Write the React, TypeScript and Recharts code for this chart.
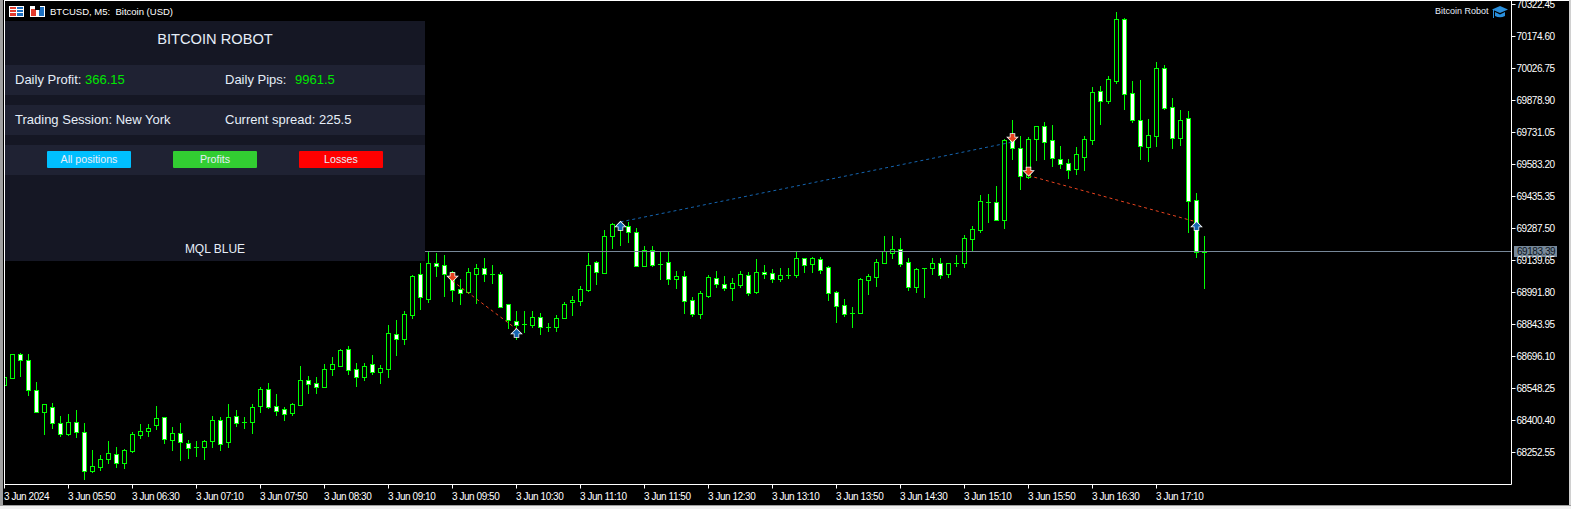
import { Bar, ComposedChart, ReferenceDot, ReferenceLine, XAxis, YAxis } from "recharts";

const GREEN = "#00FF00";
const CHART_W = 1571;
const CHART_H = 509;

const opens = [
    68566, 68598, 68706, 68678, 68540, 68438, 68461, 68387, 68340, 68392, 68346, 68166, 68187, 68221, 68244, 68203,
    68261, 68335, 68350, 68378, 68415, 68309, 68341, 68295, 68276, 68276, 68304, 68401, 68300, 68420, 68392, 68392,
    68466, 68545, 68466, 68452, 68434, 68474, 68586, 68572, 68557, 68637, 68654, 68729, 68637, 68603, 68660, 68626,
    68640, 68799, 68779, 68889, 69076, 68963, 69127, 69117, 69085, 69007, 68996, 69079, 69103, 69076, 69076, 68937,
    68859, 68846, 68843, 68877, 68832, 68834, 68876, 68946, 68954, 69003, 69131, 69083, 69254, 69307, 69297, 69270,
    69116, 69187, 69122, 69131, 69056, 69067, 68956, 68894, 68976, 69057, 69030, 69014, 69028, 69071, 68996, 69085,
    69080, 69056, 69073, 69074, 69150, 69123, 69145, 69108, 68993, 68933, 68897, 68899, 69050, 69064, 69130, 69176,
    69191, 69131, 69019, 69103, 69107, 69127, 69079, 69127, 69130, 69241, 69281, 69408, 69408, 69328, 69704, 69658,
    69527, 69703, 69760, 69695, 69607, 69589, 69564, 69619, 69698, 69921, 69878, 69971, 70254, 69912, 69787, 69666,
    69716, 70028, 69847, 69707, 69796, 69418, 69179,
];
const highs = [
    68604, 68709, 68711, 68706, 68577, 68475, 68480, 68420, 68430, 68447, 68389, 68264, 68240, 68306, 68276, 68267,
    68346, 68383, 68383, 68466, 68415, 68369, 68389, 68309, 68304, 68309, 68420, 68415, 68477, 68447, 68415, 68477,
    68554, 68572, 68523, 68461, 68480, 68652, 68606, 68602, 68660, 68694, 68729, 68745, 68666, 68666, 68703, 68655,
    68842, 68865, 68906, 69073, 69128, 69179, 69174, 69165, 69090, 69054, 69105, 69123, 69151, 69119, 69087, 68937,
    68906, 68906, 68906, 68897, 68853, 68888, 68946, 68974, 69022, 69174, 69137, 69281, 69311, 69319, 69318, 69290,
    69207, 69207, 69182, 69179, 69091, 69091, 68971, 68999, 69073, 69091, 69068, 69059, 69091, 69087, 69147, 69119,
    69100, 69105, 69105, 69180, 69150, 69156, 69156, 69114, 68999, 68962, 68925, 69057, 69077, 69145, 69253, 69253,
    69244, 69151, 69103, 69103, 69151, 69151, 69127, 69165, 69258, 69299, 69441, 69445, 69484, 69699, 69787, 69715,
    69709, 69760, 69778, 69764, 69669, 69609, 69663, 69715, 69940, 69944, 69991, 70286, 70259, 69967, 69972, 69792,
    70055, 70041, 69889, 69833, 69829, 69450, 69251,
];
const lows = [
    68562, 68596, 68608, 68518, 68438, 68340, 68367, 68330, 68335, 68326, 68132, 68161, 68173, 68206, 68187, 68181,
    68256, 68321, 68330, 68361, 68298, 68266, 68219, 68229, 68238, 68224, 68280, 68266, 68280, 68377, 68367, 68344,
    68440, 68460, 68426, 68403, 68426, 68474, 68528, 68528, 68557, 68611, 68654, 68615, 68560, 68588, 68615, 68574,
    68601, 68703, 68754, 68874, 68916, 68948, 69068, 68976, 68953, 68939, 68988, 68943, 69045, 69036, 68926, 68828,
    68779, 68809, 68834, 68800, 68814, 68815, 68876, 68888, 68934, 68999, 69031, 69083, 69197, 69211, 69225, 69116,
    69116, 69114, 69054, 69031, 69013, 68897, 68883, 68874, 68971, 69017, 69003, 68957, 69017, 68980, 68988, 69059,
    69040, 69045, 69059, 69063, 69087, 69087, 69082, 68957, 68856, 68883, 68833, 68899, 68985, 69022, 69130, 69151,
    69114, 69003, 68994, 68971, 69077, 69059, 69063, 69114, 69110, 69188, 69273, 69319, 69328, 69291, 69610, 69472,
    69522, 69606, 69609, 69578, 69569, 69522, 69541, 69559, 69679, 69772, 69869, 69961, 69841, 69781, 69610, 69601,
    69670, 69840, 69661, 69675, 69273, 69157, 69014,
];
const closes = [
    68600, 68706, 68678, 68540, 68438, 68475, 68387, 68340, 68392, 68349, 68166, 68189, 68221, 68249, 68203, 68263,
    68337, 68350, 68364, 68410, 68313, 68341, 68300, 68275, 68276, 68304, 68401, 68290, 68415, 68387, 68392, 68461,
    68545, 68464, 68444, 68432, 68475, 68586, 68571, 68557, 68637, 68660, 68725, 68635, 68603, 68651, 68626, 68642,
    68803, 68779, 68891, 69067, 68973, 69127, 69116, 69079, 69005, 68991, 69085, 69103, 69079, 69076, 68926, 68863,
    68843, 68846, 68877, 68831, 68832, 68872, 68937, 68956, 69006, 69117, 69088, 69251, 69307, 69296, 69270, 69116,
    69187, 69120, 69122, 69056, 69067, 68954, 68893, 68988, 69062, 69033, 69014, 69034, 69076, 68991, 69085, 69076,
    69056, 69071, 69073, 69150, 69120, 69150, 69097, 68991, 68931, 68894, 68897, 69053, 69067, 69131, 69182, 69191,
    69125, 69019, 69099, 69103, 69127, 69074, 69127, 69127, 69242, 69284, 69413, 69408, 69328, 69695, 69658, 69529,
    69699, 69760, 69689, 69612, 69587, 69559, 69630, 69699, 69917, 69878, 69977, 70254, 69910, 69787, 69670, 69718,
    70028, 69843, 69707, 69787, 69416, 69177, 69179,
];

const candles = opens.map((open, index) => ({
    index,
    open,
    high: highs[index],
    low: lows[index],
    close: closes[index],
}));

const priceTicks = [
    70322.45, 70174.6, 70026.75, 69878.9, 69731.05, 69583.2, 69435.35, 69287.5, 69139.65, 68991.8, 68843.95, 68696.1,
    68548.25, 68400.4, 68252.55,
];
const timeTickIndexes = [0, 8, 16, 24, 32, 40, 48, 56, 64, 72, 80, 88, 96, 104, 112, 120, 128, 136, 144];
const timeTickLabels = [
    "3 Jun 2024", "3 Jun 05:50", "3 Jun 06:30", "3 Jun 07:10", "3 Jun 07:50", "3 Jun 08:30", "3 Jun 09:10",
    "3 Jun 09:50", "3 Jun 10:30", "3 Jun 11:10", "3 Jun 11:50", "3 Jun 12:30", "3 Jun 13:10", "3 Jun 13:50",
    "3 Jun 14:30", "3 Jun 15:10", "3 Jun 15:50", "3 Jun 16:30", "3 Jun 17:10",
];
const lastPrice = 69183.39;

// trades: arrow tips sit on the price, "sell" opens with a red arrow and closes with a blue one
const tradeSides = ["sell", "buy", "sell"];
const tradeOpenIndex = [56, 77, 128];
const tradeOpenPrice = [69045, 69318, 69532];
const tradeCloseIndex = [64, 126, 149];
const tradeClosePrice = [68823, 69687, 69318];

const ARROW_RED = "#E8431F";
const ARROW_BLUE = "#1565B0";

// narrow digits squeezed a little to get the terminal's tall tick labels
const tickFont = { fontSize: 10, letterSpacing: -0.45, fontFamily: "Liberation Sans" };

// one candle, body edges come from the bar's own scaled high/low box
const Candle = (props: any) => {
    const { x, y, width, height, payload } = props;
    const { open, high, low, close } = payload;
    const perUnit = height / (high - low);
    const cx = x + width / 2;
    const toY = (price: number) => Math.round(y + (high - price) * perUnit);
    const top = toY(Math.max(open, close));
    const bottom = toY(Math.min(open, close));
    const isBear = close < open;
    const bodyH = Math.max(1, bottom - top + 1);
    return (
        <g shapeRendering="crispEdges">
            <rect x={cx - 0.5} y={toY(high)} width={1} height={toY(low) - toY(high) + 1} fill={GREEN} />
            <rect x={cx - 2.5} y={top} width={5} height={bodyH} fill={GREEN} />
            {bodyH > 2 && <rect x={cx - 1.5} y={top + 1} width={3} height={bodyH - 2} fill={isBear ? "#FFFFFF" : "#000000"} />}
        </g>
    );
};

const TimeTick = (props: any) => {
    const { x, y, index } = props;
    return (
        <text x={x - 0.5} y={y + 9} textAnchor="start" fill="#FFFFFF" {...tickFont}>
            {timeTickLabels[index]}
        </text>
    );
};

const PriceTag = (props: any) => {
    const y = props.viewBox.y;
    return (
        <g>
            <rect x={1514} y={y - 5} width={43} height={11} fill="#778899" shapeRendering="crispEdges" />
            <text x={1517} y={y + 4} fill="#0B1520" {...tickFont}>
                {lastPrice.toFixed(2)}
            </text>
        </g>
    );
};

const Arrow = (props: any) => {
    const { cx, cy, dir, color } = props;
    // dir 1 points down with the tip on the price, -1 points up
    const p = (dx: number, dy: number) => `${cx + dx},${cy + dir * dy}`;
    const points = [p(0, 0), p(-4.5, -4.5), p(-2, -4.5), p(-2, -8), p(2, -8), p(2, -4.5), p(4.5, -4.5)].join(" ");
    return <polygon points={points} fill={color} stroke="#FFFFFF" strokeWidth={1.5} paintOrder="stroke" />;
};

const panelLabel = (x: number, y: number, text: string, color = "#E6EEF8", size = 13) => (
    <span
        style={{
            position: "absolute",
            left: x,
            top: y,
            color,
            fontSize: size,
            lineHeight: "16px",
            whiteSpace: "pre",
            transform: "translateY(-50%)",
        }}
    >
        {text}
    </span>
);

const PanelButton = ({ x, color, text }: { x: number; color: string; text: string }) => (
    <div
        style={{
            position: "absolute",
            left: x,
            top: 151,
            width: 84,
            height: 17,
            background: color,
            borderRadius: 1,
            color: "#E6EEF8",
            fontSize: 10.67,
            lineHeight: "17px",
            textAlign: "center",
        }}
    >
        {text}
    </div>
);

const Panel = () => (
    <div style={{ position: "absolute", left: 0, top: 0, fontFamily: "Liberation Sans" }}>
        <div style={{ position: "absolute", left: 5, top: 21, width: 420, height: 240, background: "#151724" }} />
        <div style={{ position: "absolute", left: 5, top: 65, width: 420, height: 30, background: "#1F2233" }} />
        <div style={{ position: "absolute", left: 5, top: 105, width: 420, height: 30, background: "#1F2233" }} />
        <div style={{ position: "absolute", left: 5, top: 145, width: 420, height: 30, background: "#1F2233" }} />
        <div
            style={{
                position: "absolute",
                left: 5,
                top: 31,
                width: 420,
                textAlign: "center",
                color: "#E6EEF8",
                fontSize: 14.67,
                lineHeight: "17px",
            }}
        >
            BITCOIN ROBOT
        </div>
        {panelLabel(15, 79.5, "Daily Profit:")}
        {panelLabel(85, 79.5, "366.15", "#00E800")}
        {panelLabel(225, 79.5, "Daily Pips:")}
        {panelLabel(295, 79.5, "9961.5", "#00E800")}
        {panelLabel(15, 119.5, "Trading Session: New York")}
        {panelLabel(225, 119.5, "Current spread: 225.5")}
        <PanelButton x={47} color="#00BFFF" text="All positions" />
        <PanelButton x={173} color="#32CD32" text="Profits" />
        <PanelButton x={299} color="#FF0000" text="Losses" />
        <div
            style={{
                position: "absolute",
                left: 5,
                top: 242,
                width: 420,
                textAlign: "center",
                color: "#E6EEF8",
                fontSize: 12,
                lineHeight: "15px",
            }}
        >
            MQL BLUE
        </div>
    </div>
);

const Header = () => (
    <div style={{ position: "absolute", left: 0, top: 0, fontFamily: "Liberation Sans" }}>
        <svg width={60} height={22} style={{ position: "absolute", left: 0, top: 0 }} shapeRendering="crispEdges">
            <rect x={9} y={6} width={15} height={11} fill="#FFFFFF" />
            <rect x={10} y={7} width={6} height={9} fill="#E23B2E" />
            <rect x={17} y={7} width={6} height={9} fill="#1C6FC0" />
            <rect x={9} y={9} width={15} height={1} fill="#FFFFFF" />
            <rect x={9} y={12} width={15} height={1} fill="#FFFFFF" />
            <rect x={30} y={6} width={15} height={11} fill="#FFFFFF" />
            <rect x={31} y={9} width={5} height={7} fill="#E23B2E" />
            <rect x={39} y={7} width={5} height={9} fill="#1C6FC0" />
            <rect x={35} y={6} width={5} height={4} fill="#000000" />
        </svg>
        <span style={{ position: "absolute", left: 50, top: 5, color: "#FFFFFF", fontSize: 9.5, lineHeight: "13px", whiteSpace: "pre" }}>
            {"BTCUSD, M5:  Bitcoin (USD)"}
        </span>
        <span style={{ position: "absolute", left: 1435, top: 5, color: "#E6EEF8", fontSize: 9, lineHeight: "13px", whiteSpace: "pre" }}>
            Bitcoin Robot
        </span>
        <svg width={17} height={13} style={{ position: "absolute", left: 1492, top: 6 }}>
            <polygon points="8,0 16,3.5 8,7 0,3.5" fill="#2A8FDC" />
            <path d="M3,6 L3,10 Q8,12.5 13,10 L13,6 L8,8.5 Z" fill="#2A8FDC" />
            <rect x={1} y={4} width={1} height={8} fill="#2A8FDC" />
        </svg>
    </div>
);

// window frame round the chart
const Frame = () => (
    <div style={{ position: "absolute", left: 0, top: 0, width: CHART_W, height: CHART_H, pointerEvents: "none" }}>
        <div style={{ position: "absolute", left: 0, top: 0, width: 3, height: CHART_H, background: "#A0A0A0" }} />
        <div style={{ position: "absolute", left: 3, top: 0, width: 1, height: 505, background: "#000000" }} />
        <div style={{ position: "absolute", left: 4, top: 0, width: 1, height: 485, background: "#FFFFFF" }} />
        <div style={{ position: "absolute", left: 4, top: 0, width: CHART_W - 4, height: 1, background: "#FFFFFF" }} />
        <div style={{ position: "absolute", left: 0, top: 505, width: CHART_W, height: 1, background: "#A0A0A0" }} />
        <div style={{ position: "absolute", left: 0, top: 506, width: CHART_W, height: 3, background: "#F0F0F0" }} />
        <div style={{ position: "absolute", left: 1569, top: 0, width: 2, height: 505, background: "#D0D0D0" }} />
    </div>
);

export default function App() {
    return (
        <div style={{ position: "absolute", left: 0, top: 0, width: CHART_W, height: CHART_H, background: "#000000", overflow: "hidden" }}>
            <ComposedChart
                width={CHART_W}
                height={CHART_H}
                data={candles}
                margin={{ top: 0, right: 0, bottom: 4.5, left: 0 }}
            >
                <XAxis
                    dataKey="index"
                    type="number"
                    domain={[-0.5625, 188.375]}
                    ticks={timeTickIndexes}
                    interval={0}
                    height={20}
                    tick={<TimeTick />}
                    tickSize={4}
                    tickLine={{ stroke: "#FFFFFF" }}
                    axisLine={{ stroke: "#FFFFFF" }}
                    allowDataOverflow
                />
                <YAxis
                    type="number"
                    orientation="right"
                    domain={[68104.7, 70343.24]}
                    ticks={priceTicks}
                    interval={0}
                    width={59.5}
                    tickSize={4}
                    tickMargin={1}
                    tickLine={{ stroke: "#FFFFFF" }}
                    axisLine={{ stroke: "#FFFFFF" }}
                    tick={{ fill: "#FFFFFF", ...tickFont }}
                    tickFormatter={(v: number) => v.toFixed(2)}
                    allowDataOverflow
                />
                <Bar
                    dataKey={(d: any) => [d.low, d.high]}
                    barSize={5}
                    shape={<Candle />}
                    isAnimationActive={false}
                />
                <ReferenceLine y={lastPrice} stroke="#778899" strokeWidth={1} shapeRendering="crispEdges" label={<PriceTag />} />
                {tradeSides.map((side, i) => (
                    <ReferenceLine
                        key={`trade-${i}`}
                        segment={[
                            { x: tradeOpenIndex[i], y: tradeOpenPrice[i] },
                            { x: tradeCloseIndex[i], y: tradeClosePrice[i] },
                        ]}
                        stroke={side === "sell" ? ARROW_RED : ARROW_BLUE}
                        strokeWidth={1}
                        strokeDasharray="3 3"
                    />
                ))}
                {tradeSides.map((side, i) => (
                    <ReferenceDot
                        key={`open-${i}`}
                        x={tradeOpenIndex[i]}
                        y={tradeOpenPrice[i]}
                        shape={<Arrow dir={side === "sell" ? 1 : -1} color={side === "sell" ? ARROW_RED : ARROW_BLUE} />}
                    />
                ))}
                {tradeSides.map((side, i) => (
                    <ReferenceDot
                        key={`close-${i}`}
                        x={tradeCloseIndex[i]}
                        y={tradeClosePrice[i]}
                        shape={<Arrow dir={side === "sell" ? -1 : 1} color={side === "sell" ? ARROW_BLUE : ARROW_RED} />}
                    />
                ))}
            </ComposedChart>
            <Panel />
            <Header />
            <Frame />
        </div>
    );
}
